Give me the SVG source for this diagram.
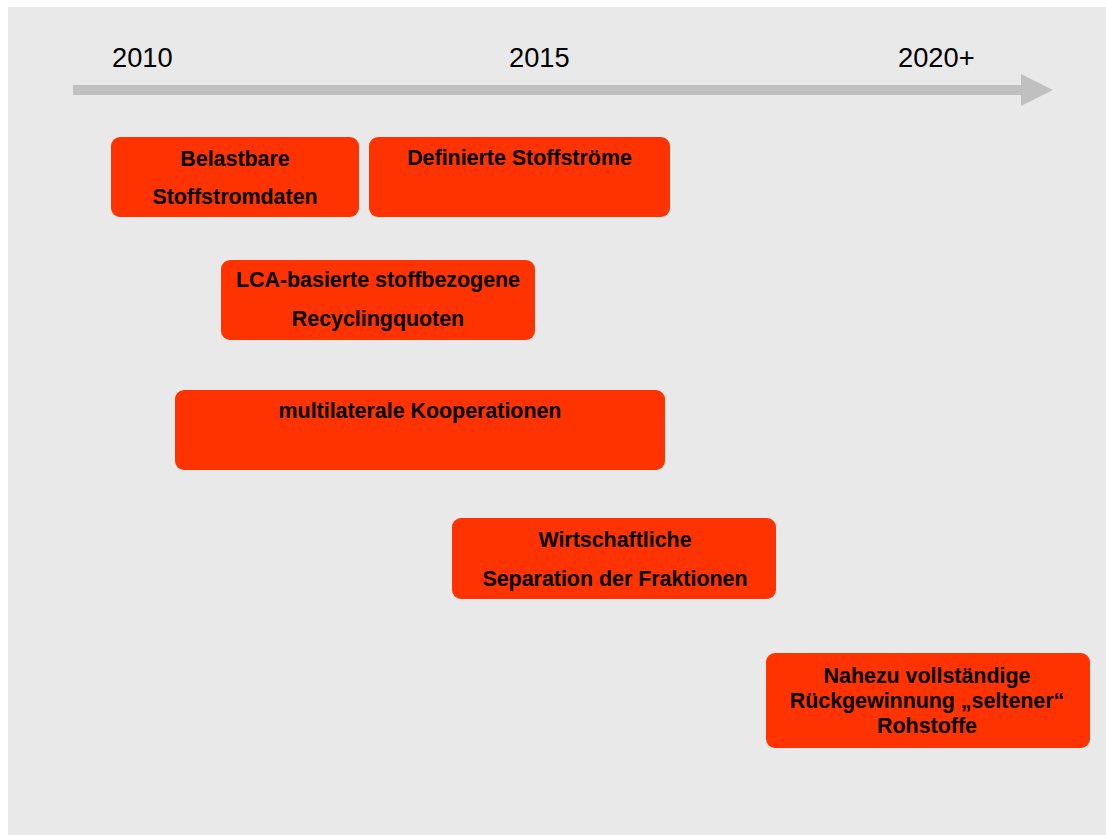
<svg xmlns="http://www.w3.org/2000/svg" width="1106" height="835" viewBox="0 0 1106 835">
  <style>
    .year { font-family: "Liberation Sans", Arial, sans-serif; font-size: 27.3px; fill: #000; }
    .box rect { fill: #FF3300; }
    .box text { font-family: "Liberation Sans", Arial, sans-serif; font-size: 21.4px; font-weight: bold; fill: #000; text-anchor: middle; }
  </style>
  <rect x="0" y="0" width="1106" height="835" fill="#FFFFFF"/>
  <rect x="8" y="7" width="1098" height="828" fill="#E9E9E9"/>

  <!-- timeline axis -->
  <g id="connectors">
    <rect x="73" y="85" width="949" height="10" fill="#C0C0C0"/>
    <polygon points="1021,74 1053,90 1021,106" fill="#C0C0C0"/>
  </g>

  <g id="years">
    <text class="year" x="112" y="67">2010</text>
    <text class="year" x="509" y="67">2015</text>
    <text class="year" x="898" y="67">2020+</text>
  </g>

  <g id="n1" class="box">
    <rect x="111" y="137" width="248" height="80" rx="9"/>
    <text x="235" y="166">Belastbare</text>
    <text x="235" y="204">Stoffstromdaten</text>
  </g>

  <g id="n2" class="box">
    <rect x="369" y="137" width="301" height="80" rx="9"/>
    <text x="519.5" y="165">Definierte Stoffströme</text>
  </g>

  <g id="n3" class="box">
    <rect x="221" y="260" width="314" height="80" rx="9"/>
    <text x="378" y="287">LCA-basierte stoffbezogene</text>
    <text x="378" y="326">Recyclingquoten</text>
  </g>

  <g id="n4" class="box">
    <rect x="175" y="390" width="490" height="80" rx="9"/>
    <text x="420" y="418">multilaterale Kooperationen</text>
  </g>

  <g id="n5" class="box">
    <rect x="452" y="518" width="324" height="81" rx="9"/>
    <text x="615" y="547">Wirtschaftliche</text>
    <text x="615" y="586">Separation der Fraktionen</text>
  </g>

  <g id="n6" class="box">
    <rect x="766" y="653" width="324" height="95" rx="9"/>
    <text x="927" y="683">Nahezu vollständige</text>
    <text x="927" y="708">Rückgewinnung „seltener“</text>
    <text x="927" y="733">Rohstoffe</text>
  </g>
</svg>
